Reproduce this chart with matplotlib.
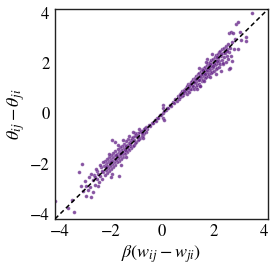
import numpy as np
import matplotlib
matplotlib.use("Agg")
import matplotlib.pyplot as plt

# points, grouped by region along the diagonal
center_pts = [(-0.58, -0.62), (-0.52, -0.45), (-0.47, -0.51), (-0.41, -0.38), (-0.36, -0.40),
              (-0.30, -0.27), (-0.26, -0.31), (-0.21, -0.19), (-0.15, -0.17), (-0.10, -0.08),
              (-0.05, -0.06), (0.02, 0.03), (0.04, -0.18), (0.05, 0.35), (0.03, 0.22),
              (0.06, -0.28), (0.09, 0.11), (0.14, 0.12), (0.19, 0.22), (0.24, 0.20),
              (0.29, 0.33), (0.35, 0.31), (0.41, 0.45), (0.46, 0.40), (0.52, 0.57),
              (0.57, 0.51), (0.62, 0.68)]

upper_mid = [(0.64, 0.58), (0.68, 0.77), (0.71, 0.66), (0.74, 0.81), (0.77, 0.70), (0.79, 0.88),
             (0.82, 0.75), (0.84, 0.93), (0.86, 0.80), (0.88, 0.97), (0.90, 0.84), (0.92, 1.02),
             (0.94, 0.88), (0.96, 1.05), (0.97, 0.79), (0.99, 1.10), (1.01, 0.93), (1.03, 1.15),
             (1.04, 0.86), (1.06, 1.01), (1.08, 1.18), (1.09, 0.95), (1.11, 1.07), (1.13, 1.24),
             (1.14, 0.98), (1.16, 1.12), (1.18, 1.30), (1.19, 1.03), (0.80, 0.80), (0.93, 0.95),
             (1.05, 1.08), (1.12, 1.15), (0.70, 0.72), (0.87, 0.89), (1.00, 1.00)]

upper_dense = [(1.21, 1.35), (1.22, 1.10), (1.24, 1.28), (1.25, 0.98), (1.27, 1.42), (1.28, 1.19),
               (1.30, 1.33), (1.31, 1.06), (1.33, 1.50), (1.34, 1.25), (1.36, 1.39), (1.37, 1.12),
               (1.39, 1.57), (1.40, 1.31), (1.42, 1.46), (1.43, 1.18), (1.45, 1.62), (1.46, 1.37),
               (1.48, 1.53), (1.49, 1.10), (1.51, 1.68), (1.52, 1.42), (1.54, 1.58), (1.55, 1.28),
               (1.57, 1.75), (1.58, 1.47), (1.60, 1.64), (1.61, 1.33), (1.63, 1.80), (1.64, 1.52),
               (1.66, 1.70), (1.67, 1.39), (1.69, 1.86), (1.70, 1.58), (1.72, 1.76), (1.73, 1.45),
               (1.75, 1.93), (1.76, 1.63), (1.78, 1.81), (1.79, 1.50), (1.81, 1.99), (1.82, 1.69),
               (1.84, 1.87), (1.85, 1.56), (1.87, 2.05), (1.88, 1.74), (1.90, 1.92), (1.91, 1.60),
               (1.93, 2.12), (1.94, 1.80), (1.96, 1.98), (1.97, 1.66), (1.99, 2.18), (2.00, 1.85),
               (2.02, 2.04), (2.03, 1.70), (2.05, 2.24), (2.06, 1.91), (2.08, 2.10), (2.09, 1.75),
               (2.11, 2.31), (2.12, 1.96), (2.14, 2.15), (2.15, 1.80), (2.17, 2.37), (2.18, 2.02),
               (2.20, 2.21), (2.21, 1.84), (2.23, 2.44), (2.24, 2.07), (1.50, 1.10), (1.35, 0.95),
               (1.62, 1.28), (1.77, 2.15), (1.95, 2.35), (2.10, 1.55), (1.88, 1.45), (1.45, 1.80),
               (1.70, 2.05), (1.26, 1.24), (1.38, 1.41), (1.47, 1.49), (1.56, 1.55), (1.65, 1.62),
               (1.74, 1.71), (1.83, 1.80), (1.92, 1.89), (2.01, 1.97), (2.13, 2.08), (1.32, 1.36),
               (1.59, 1.72), (1.86, 1.95), (1.68, 1.58), (1.98, 1.90), (2.16, 2.25), (1.44, 1.32)]

upper_sparse = [(2.26, 2.50), (2.28, 1.95), (2.30, 2.28), (2.31, 1.67), (2.33, 2.55), (2.35, 2.12),
                (2.37, 2.40), (2.38, 1.98), (2.40, 2.00), (2.42, 2.62), (2.44, 2.25), (2.46, 2.48),
                (2.48, 2.05), (2.50, 2.70), (2.52, 2.30), (2.54, 2.58), (2.56, 2.15), (2.58, 2.78),
                (2.60, 1.75), (2.62, 3.20), (2.63, 2.45), (2.65, 1.80), (2.67, 2.62), (2.68, 3.23),
                (2.70, 2.30), (2.72, 2.85), (2.75, 2.10), (2.78, 3.20), (2.80, 2.55), (2.85, 2.95),
                (2.91, 3.55), (2.97, 3.62), (2.98, 2.58), (3.04, 3.23), (3.10, 2.90), (3.27, 3.03),
                (3.27, 2.86), (3.53, 3.98), (2.32, 2.36), (2.45, 2.40), (2.55, 2.48)]

lower_mid = [(-0.62, -0.55), (-0.65, -0.74), (-0.68, -0.60), (-0.71, -0.80), (-0.73, -0.64),
             (-0.76, -0.86), (-0.78, -0.69), (-0.81, -0.92), (-0.83, -0.72), (-0.86, -0.97),
             (-0.88, -0.76), (-0.91, -1.03), (-0.93, -0.80), (-0.96, -1.08), (-0.98, -0.85),
             (-1.01, -1.13), (-1.03, -0.88), (-1.06, -1.19), (-1.08, -0.92), (-1.11, -1.24),
             (-1.13, -0.96), (-1.16, -1.30), (-1.18, -1.00), (-0.90, -0.62), (-1.05, -0.78),
             (-0.75, -0.98), (-1.15, -0.75), (-0.80, -0.80), (-0.95, -0.94), (-1.10, -1.08)]

lower_dense = [(-1.21, -1.36), (-1.23, -1.05), (-1.25, -1.30), (-1.27, -1.12), (-1.29, -1.45),
               (-1.31, -1.18), (-1.33, -1.40), (-1.35, -1.02), (-1.37, -1.55), (-1.39, -1.25),
               (-1.41, -1.48), (-1.43, -1.10), (-1.45, -1.62), (-1.47, -1.32), (-1.49, -1.56),
               (-1.51, -1.20), (-1.53, -1.72), (-1.55, -1.40), (-1.57, -1.63), (-1.59, -1.28),
               (-1.61, -1.80), (-1.63, -1.47), (-1.65, -1.70), (-1.68, -2.50), (-1.67, -1.35),
               (-1.69, -1.88), (-1.71, -1.55), (-1.73, -1.78), (-1.75, -1.42), (-1.77, -1.95),
               (-1.79, -1.62), (-1.81, -1.86), (-1.83, -1.50), (-1.85, -1.13), (-1.85, -2.04),
               (-1.87, -1.70), (-1.89, -1.94), (-1.91, -1.57), (-1.93, -2.12), (-1.95, -1.78),
               (-1.98, -1.07), (-1.97, -2.02), (-1.99, -1.64), (-2.01, -2.20), (-2.03, -1.85),
               (-2.05, -2.10), (-2.07, -1.72), (-2.09, -2.28), (-2.11, -1.93), (-2.13, -2.18),
               (-2.15, -1.80), (-2.17, -2.36), (-2.19, -2.00), (-2.21, -2.26), (-2.23, -1.88),
               (-2.25, -2.45), (-2.27, -2.08), (-1.40, -1.75), (-1.60, -2.05), (-1.75, -1.25),
               (-1.95, -2.40), (-2.10, -1.60), (-1.30, -0.90), (-1.55, -1.05), (-2.00, -2.55),
               (-1.26, -1.22), (-1.36, -1.34), (-1.46, -1.44), (-1.56, -1.52), (-1.66, -1.60),
               (-1.76, -1.70), (-1.86, -1.80), (-1.96, -1.90), (-2.06, -1.98), (-2.16, -2.10),
               (-1.42, -1.30), (-1.62, -1.58), (-1.82, -1.66), (-2.02, -1.94), (-2.20, -2.14)]

lower_sparse = [(-2.30, -2.35), (-2.33, -1.95), (-2.36, -2.60), (-2.39, -2.15), (-2.42, -2.48),
                (-2.45, -2.05), (-2.48, -2.72), (-2.51, -2.89), (-2.54, -2.30), (-2.57, -2.60),
                (-2.60, -2.20), (-2.63, -2.85), (-2.66, -2.45), (-2.70, -3.13), (-2.73, -2.65),
                (-2.77, -3.32), (-2.80, -2.40), (-2.84, -2.95), (-2.88, -2.55), (-2.92, -3.05),
                (-2.97, -2.89), (-2.97, -3.28), (-3.02, -2.70), (-3.10, -3.09), (-3.13, -2.00),
                (-3.18, -2.90), (-3.26, -2.34), (-3.53, -3.44), (-3.69, -3.77), (-3.46, -3.93),
                (-4.19, -3.48), (-2.35, -2.30), (-2.50, -2.42), (-2.62, -2.55)]

ticks = [-4, -2, 0, 2, 4]
lims = [-4.2, 4.15]

pts = np.array(center_pts + upper_mid + upper_dense + upper_sparse
               + lower_mid + lower_dense + lower_sparse)

plt.rcParams['font.family'] = 'STIXGeneral'
plt.rcParams['mathtext.fontset'] = 'stix'
plt.rcParams['axes.unicode_minus'] = True

fig = plt.figure(figsize=(2.75, 2.75), dpi=100)
ax = fig.add_axes([0.2, 0.204, 0.775, 0.763])

ax.scatter(pts[:, 0], pts[:, 1], s=7, color='#6a2b8c', alpha=0.8,
           edgecolor='white', linewidth=0.15, zorder=2)
ax.plot(lims, lims, color='black', linestyle='--', linewidth=1.1,
        dashes=(3, 2), zorder=3)

ax.set_xlim(lims)
ax.set_ylim(lims)
ax.set_xticks(ticks)
ax.set_yticks(ticks)
ax.tick_params(length=0, labelsize=12, pad=4)
for s in ax.spines.values():
    s.set_color('#222222')
    s.set_linewidth(1.0)

ax.set_xlabel(r'$\beta(w_{ij} - w_{ji})$', fontsize=13, labelpad=2)
ax.set_ylabel(r'$\theta_{ij} - \theta_{ji}$', fontsize=13, labelpad=2)

fig.savefig('out.png', dpi=100)
